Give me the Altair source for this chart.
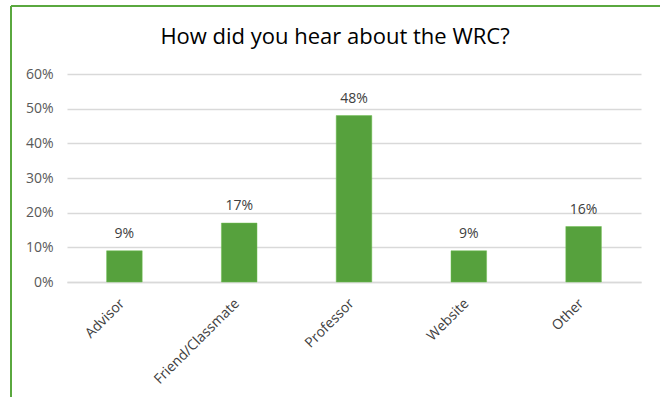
import altair as alt
import pandas as pd

categories = ["Advisor", "Friend/Classmate", "Professor", "Website", "Other"]
values = [0.09, 0.17, 0.48, 0.09, 0.16]
labels = ["9%", "17%", "48%", "9%", "16%"]
y_ticks = [0, 0.1, 0.2, 0.3, 0.4, 0.5, 0.6]
title_text = "How did you hear about the WRC?"

df = pd.DataFrame({"cat": categories, "val": values, "lab": labels})

FONT = "Open Sans"
GREEN = "#56A13D"

x_axis = alt.Axis(labelAngle=315, labelAlign="right", labelBaseline="middle",
                  labelFont=FONT, labelFontSize=14, labelColor="#404040",
                  labelPadding=19, labelOffset=-2, ticks=False,
                  domainColor="#d9d9d9", domainWidth=1.5, grid=False)
y_axis = alt.Axis(format=".0%", values=y_ticks, labelOverlap=False,
                  labelFont=FONT, labelFontSize=14, labelColor="#595959",
                  labelPadding=14, ticks=False, domain=False,
                  gridColor="#d9d9d9", gridWidth=1.5)
x_scale = alt.Scale(paddingInner=0.69, paddingOuter=0.345)
y_scale = alt.Scale(domain=[0, 0.6], nice=False)

base = alt.Chart(df)

bars = base.mark_bar(color=GREEN, stroke="#6fbf50", strokeWidth=0.5).encode(
    x=alt.X("cat:N", sort=categories, title=None, scale=x_scale, axis=x_axis),
    y=alt.Y("val:Q", title=None, scale=y_scale, axis=y_axis),
)

text = base.mark_text(font=FONT, fontSize=14, color="#404040", dy=-10, baseline="bottom").encode(
    x=alt.X("cat:N", sort=categories, title=None, scale=x_scale, axis=x_axis),
    y=alt.Y("val:Q", title=None, scale=y_scale, axis=y_axis),
    text="lab:N",
)

frame_df = pd.DataFrame({"t": [title_text]})
left_border = alt.Chart(frame_df).mark_rule(color="#5aa83f", strokeWidth=2, clip=False).encode(
    x=alt.value(-56), y=alt.value(-68), y2=alt.value(330)
)
top_border = alt.Chart(frame_df).mark_rule(color="#5aa83f", strokeWidth=2, clip=False).encode(
    x=alt.value(-56), x2=alt.value(600), y=alt.value(-68)
)
title = alt.Chart(frame_df).mark_text(font=FONT, fontSize=22, color="#000000",
                                      align="center", baseline="middle").encode(
    x=alt.value(268), y=alt.value(-37), text="t:N"
)

chart = alt.layer(bars, text, left_border, top_border, title).properties(
    width=574, height=208,
    background="white",
    autosize=alt.AutoSizeParams(type="none"),
    padding={"left": 67, "top": 74, "right": 19, "bottom": 115},
).configure_view(strokeWidth=0, stroke="transparent")

chart.save("out.html", embed_options={"renderer": "svg", "actions": False})
